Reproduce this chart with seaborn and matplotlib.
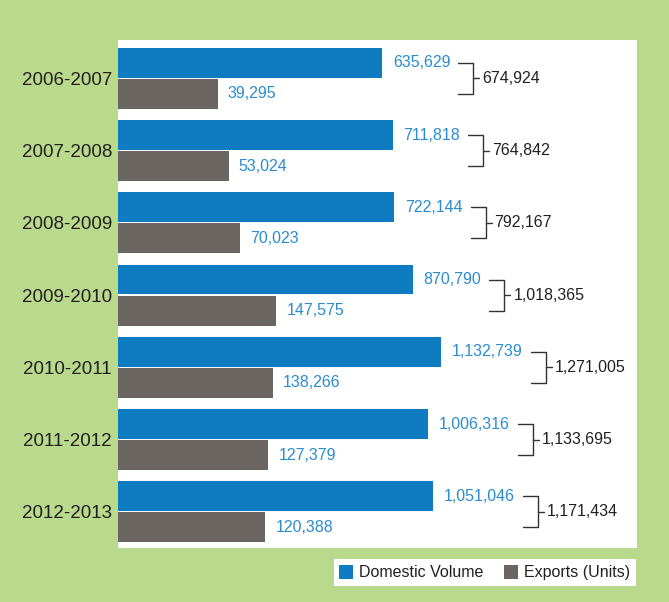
import numpy as np
import pandas as pd
import matplotlib
matplotlib.use("Agg")
import matplotlib.pyplot as plt
import seaborn as sns
from matplotlib.patches import Patch
from matplotlib.lines import Line2D

# ---- data ----
years = ["2006-2007", "2007-2008", "2008-2009", "2009-2010",
         "2010-2011", "2011-2012", "2012-2013"]
domestic = [635629, 711818, 722144, 870790, 1132739, 1006316, 1051046]
exports = [39295, 53024, 70023, 147575, 138266, 127379, 120388]
totals = [674924, 764842, 792167, 1018365, 1271005, 1133695, 1171434]
series = ["Domestic Volume", "Exports (Units)"]

df = pd.DataFrame({
    "Year": years * 2,
    "Series": [series[0]] * len(years) + [series[1]] * len(years),
    "Units": domestic + exports,
})

GREEN = "#b9d98c"
BLUE = "#0f7cc2"
GRAY = "#6b6562"
LBLUE = "#2b8bd1"
DARK = "#231f20"

sns.set_theme(style="white")
plt.rcParams['font.family'] = ['Liberation Sans', 'DejaVu Sans']

W, H = 669, 602
fig = plt.figure(figsize=(W / 100, H / 100), dpi=100, facecolor=GREEN)
ax = fig.add_axes([118 / W, 1 - 548 / H, (637 - 118) / W, (548 - 40) / H])
ax.set_facecolor("white")

sns.barplot(data=df, y="Year", x="Units", hue="Series", order=years,
            hue_order=series, palette=[BLUE, GRAY], orient="h",
            width=0.86, gap=0.04, saturation=1, errorbar=None,
            legend=False, linewidth=0, edgecolor="none", ax=ax)

# power-like display scale (the original graphic is not drawn to linear scale)
P = 0.35
ax.set_xscale("function", functions=(lambda v: np.sign(v) * np.abs(v) ** P,
                                     lambda v: np.sign(v) * np.abs(v) ** (1 / P)))
tmax = max(domestic) ** P * 519 / 323
ax.set_xlim(0, tmax ** (1 / P))
ax.set_ylim(6.5, -0.53)

for s in ax.spines.values():
    s.set_visible(False)
ax.set_xticks([])
ax.set_xlabel("")
ax.set_ylabel("")
ax.tick_params(axis="y", length=0, pad=4.3, labelsize=13.5, labelcolor=DARK)

off = 0.215
blue_labels = []
for i in range(len(years)):
    t = ax.annotate(f"{domestic[i]:,}", xy=(domestic[i], i - off),
                    xytext=(11, 0), textcoords="offset pixels",
                    ha="left", va="center", fontsize=11.5, color=LBLUE)
    blue_labels.append(t)
    ax.annotate(f"{exports[i]:,}", xy=(exports[i], i + off),
                xytext=(10, 0), textcoords="offset pixels",
                ha="left", va="center", fontsize=11.5, color=LBLUE)

fig.canvas.draw()
renderer = fig.canvas.get_renderer()
inv = ax.transAxes.inverted()
ytr = ax.get_yaxis_transform()

def px2ax(x):
    return inv.transform((x, 0))[0]

for i, t in enumerate(blue_labels):
    bb = t.get_window_extent(renderer)
    x0 = bb.x1 + 8
    xv = x0 + 15
    xt = xv + 6
    a0, av, at = px2ax(x0), px2ax(xv), px2ax(xt)
    kw = dict(transform=ytr, color="#333333", lw=1.0, clip_on=False)
    ax.add_line(Line2D([a0, av, av, a0], [i - off, i - off, i + off, i + off], **kw))
    ax.add_line(Line2D([av, at], [i, i], **kw))
    ax.text(px2ax(xt + 3), i, f"{totals[i]:,}", transform=ytr, ha="left",
            va="center", fontsize=11.5, color=DARK, clip_on=False)

handles = [Patch(facecolor=BLUE, edgecolor="none"), Patch(facecolor=GRAY, edgecolor="none")]
leg = fig.legend(handles=handles, labels=series, loc="lower right",
                 bbox_to_anchor=(636 / W, 1 - 586 / H), ncol=2, frameon=True,
                 fancybox=False, framealpha=1, facecolor="white", edgecolor="none",
                 borderaxespad=0, fontsize=11.5, handlelength=0.85, handleheight=1.05,
                 handletextpad=0.4, columnspacing=1.3, borderpad=0.35)
for txt in leg.get_texts():
    txt.set_color(DARK)

fig.savefig("out.png", dpi=100, facecolor=GREEN)
